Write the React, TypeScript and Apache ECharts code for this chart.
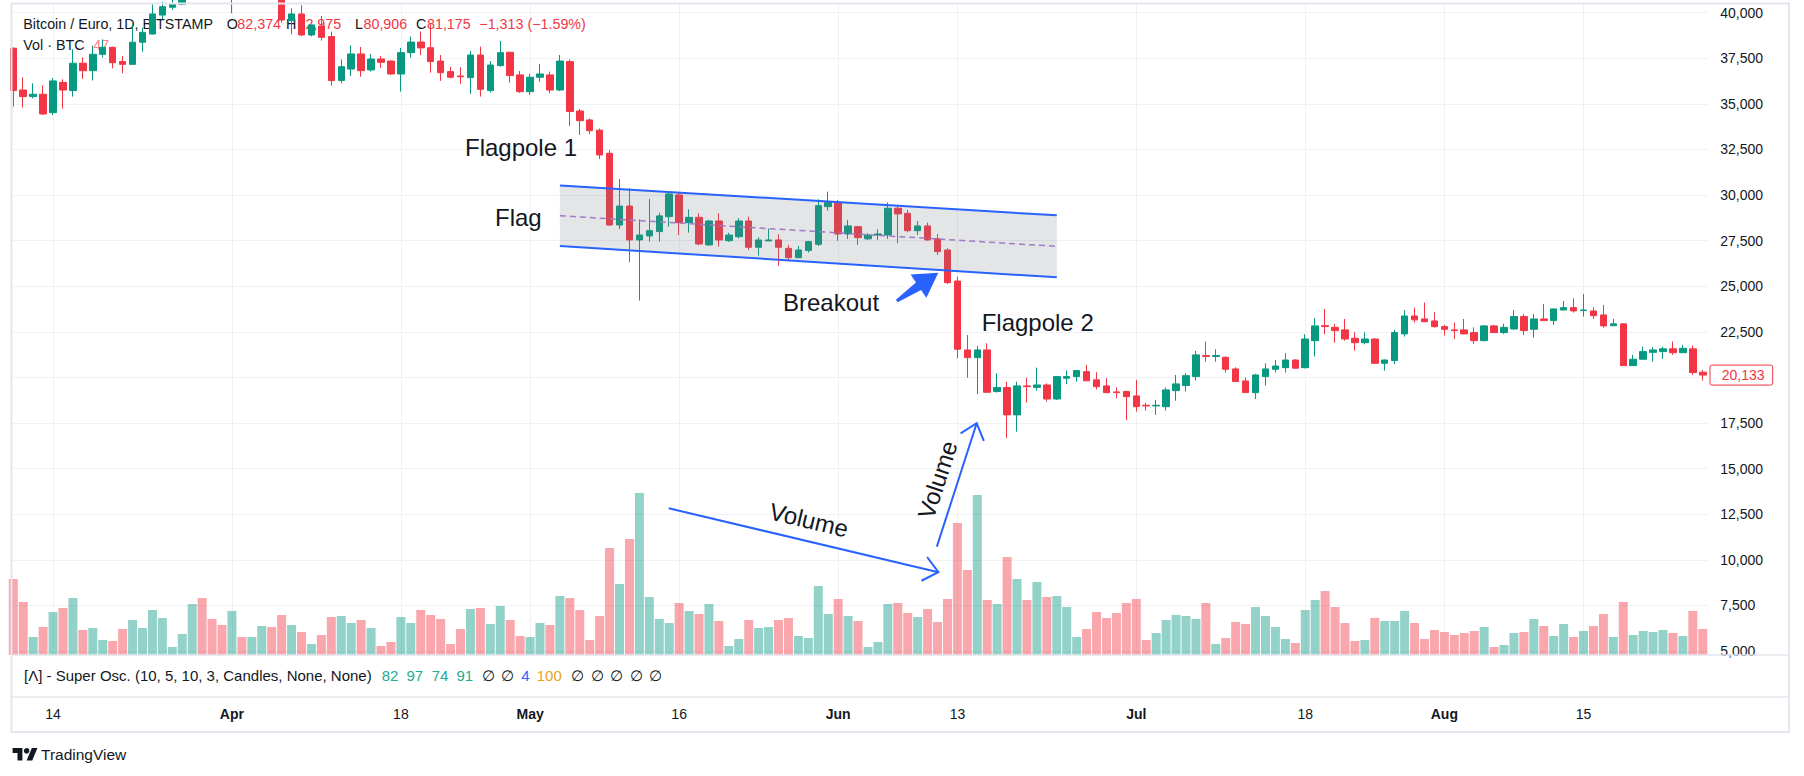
import React, { useEffect, useRef } from "react";
import * as echarts from "echarts";

// ---------- data (daily, first day = 2022-03-10, index 0) ----------
const FIRST_DAY = "2022-03-10";
const OPEN = [
  38050, 35760, 35400, 35530, 34520, 36180, 35730, 37230, 36820, 37720,
  38100, 37320, 37170, 38380, 38830, 39870, 40300, 40460, 42500, 42900,
  42800, 42600, 41300, 42000, 41600, 42200, 42400, 41700, 39560, 39930,
  38780, 39270, 38690, 36280, 36910, 37740, 36860, 37460, 37350, 36640,
  37810, 38390, 38080, 37350, 36770, 36530, 36440, 37680, 35730, 37100,
  37830, 36590, 35670, 36460, 36590, 35760, 37320, 34610, 34120, 33560,
  32290, 28360, 29400, 27540, 27760, 28000, 28820, 30010, 28490, 28780,
  27270, 28580, 27500, 27720, 28580, 27140, 27490, 27540, 27080, 26570,
  26960, 27300, 29370, 29590, 27870, 28270, 27600, 27810, 27810, 29280,
  29000, 28050, 28310, 27600, 26990, 25290, 21510, 21090, 21510, 19230,
  19450, 17950, 19540, 19460, 19590, 18820, 19960, 20050, 20320, 19870,
  19540, 19210, 19230, 18990, 18480, 18440, 18400, 19280, 19560, 20050,
  21200, 21150, 21110, 20470, 19810, 19170, 20050, 20450, 20540, 20960,
  20540, 22020, 22840, 22750, 22610, 22150, 21910, 22110, 20780, 20930,
  22390, 23370, 23210, 23100, 22790, 22610, 22610, 22460, 22020, 22830,
  22460, 22660, 23340, 22640, 23210, 23120, 23700, 23830, 23670, 23650,
  23430, 22840, 22940, 20650, 21000, 21380, 21420, 21570, 21360, 21570, 20290,
];
const HIGH = [
  38100, 36460, 36130, 36020, 36420, 36350, 37990, 37550, 38190, 38540,
  38140, 37630, 39360, 39180, 40460, 40600, 40700, 42550, 43600, 43300,
  43100, 43000, 42400, 42700, 42600, 42600, 43000, 41800, 40240, 40420,
  39330, 39820, 38960, 37440, 38210, 38120, 37740, 37630, 37380, 38070,
  38690, 38960, 39360, 37680, 37040, 37010, 37900, 38140, 37350, 38450,
  37860, 36800, 36640, 37190, 36770, 37680, 37440, 34720, 34200, 33650,
  32470, 30880, 30370, 28670, 29790, 29040, 30150, 30150, 29220, 29000,
  28640, 29000, 27940, 28730, 28820, 27690, 28160, 27850, 27270, 27210,
  27490, 29770, 30190, 29730, 28640, 28310, 27910, 28130, 29600, 29460,
  29180, 28580, 28490, 27870, 27080, 25530, 22330, 21730, 21880, 20230,
  19770, 19770, 19990, 20540, 19680, 20090, 20380, 20410, 20690, 20290,
  19960, 19460, 19280, 19870, 18620, 18770, 19450, 20140, 20230, 21460,
  21970, 21550, 21150, 20560, 19990, 20200, 20780, 20960, 21330, 20990,
  22370, 23250, 23760, 22940, 23210, 22480, 22480, 22150, 20990, 22610,
  23700, 23830, 24110, 23580, 22880, 23010, 23210, 22750, 22880, 22880,
  22940, 23700, 23470, 23480, 24030, 23770, 24200, 24340, 24580, 23850,
  23980, 23210, 22950, 21240, 21690, 21660, 21690, 21970, 21780, 21750, 20410,
];
const LOW = [
  34850, 34800, 35300, 34390, 34390, 34740, 35400, 36370, 36280, 37550,
  36950, 36680, 37130, 37860, 38810, 39640, 40150, 40400, 42300, 42400,
  42000, 41000, 39970, 41500, 41300, 41200, 41600, 39450, 38810, 38720,
  38700, 38470, 36000, 36130, 36530, 36490, 36770, 36970, 36590, 35670,
  37540, 37680, 36710, 36260, 36400, 36090, 35540, 35400, 35620, 37040,
  36170, 35600, 35490, 36220, 35580, 35700, 33790, 33300, 33350, 31980,
  28300, 28140, 26320, 24220, 27450, 27450, 28270, 27810, 27940, 27250,
  27210, 27180, 27430, 27630, 26990, 26680, 27480, 26130, 26390, 26530,
  26850, 27210, 29150, 27490, 27600, 27270, 27540, 27540, 27600, 27360,
  27960, 27810, 27500, 26720, 25130, 21050, 19990, 19100, 19170, 19170,
  16670, 17030, 18620, 19280, 18680, 18770, 19630, 19770, 19800, 19350,
  19140, 18860, 17670, 18130, 18190, 17950, 18190, 18730, 19230, 19830,
  20870, 20870, 20270, 19770, 19170, 18820, 19560, 20270, 20270, 20480,
  20500, 21150, 22370, 21910, 22020, 21470, 21820, 20740, 20380, 20730,
  22240, 23010, 23030, 22730, 22300, 22110, 22370, 21840, 21990, 22440,
  22390, 22620, 22330, 22190, 23100, 22880, 23690, 23560, 23340, 23210,
  22730, 22830, 20640, 20640, 20990, 20870, 21020, 21240, 21350, 20140, 19830,
];
const CLOSE = [
  35730, 35400, 35530, 34450, 36260, 35760, 37230, 36820, 37720, 38100,
  37260, 37170, 38380, 38920, 39930, 40330, 40460, 42500, 42900, 42800,
  42600, 41300, 42000, 41600, 42200, 42400, 41700, 39600, 39930, 38780,
  39330, 38650, 36280, 37040, 37740, 36820, 37460, 37280, 36640, 37810,
  38390, 38070, 37320, 36710, 36460, 36490, 37680, 35800, 37130, 37810,
  36550, 35670, 36460, 36640, 35760, 37350, 34580, 34080, 33530, 32200,
  28360, 29400, 27540, 27810, 28050, 28860, 30060, 28490, 28780, 27320,
  28580, 27540, 27810, 28580, 27140, 27540, 27540, 27140, 26570, 26990,
  27450, 29420, 29590, 27870, 28310, 27670, 27810, 27870, 29280, 28970,
  28050, 28310, 27540, 26900, 25200, 21550, 21090, 21510, 19190, 19450,
  17950, 19540, 19500, 19590, 18820, 20050, 20050, 20380, 19815, 19500,
  19170, 19170, 18950, 18400, 18440, 18480, 19320, 19650, 20100, 21240,
  21150, 21200, 20450, 19780, 19175, 20140, 20470, 20630, 20960, 20510,
  22110, 22830, 22790, 22570, 22110, 21910, 22110, 20780, 20960, 22460,
  23370, 23160, 23060, 22790, 22640, 22570, 22390, 22020, 22830, 22460,
  22750, 23340, 22570, 23210, 23120, 23760, 23830, 23650, 23700, 23390,
  22830, 22940, 20650, 21000, 21420, 21510, 21570, 21360, 21600, 20270, 20133,
];
const VOLUME = [
  1140, 795, 270, 420, 645, 705, 855, 375, 405, 225,
  210, 390, 525, 405, 675, 555, 120, 315, 765, 855,
  540, 450, 660, 270, 270, 435, 420, 600, 450, 345,
  165, 300, 570, 585, 480, 525, 405, 135, 195, 570,
  480, 675, 600, 540, 165, 390, 690, 705, 465, 735,
  525, 285, 270, 480, 450, 885, 855, 675, 225, 585,
  1605, 1065, 1740, 2430, 870, 540, 480, 780, 660, 615,
  765, 510, 135, 240, 525, 405, 420, 525, 555, 285,
  255, 1035, 615, 840, 585, 510, 120, 195, 765, 780,
  630, 570, 690, 495, 840, 1980, 1275, 2400, 825, 765,
  1470, 1140, 825, 1095, 870, 885, 720, 270, 390, 645,
  555, 630, 780, 840, 225, 330, 525, 600, 585, 540,
  780, 165, 255, 495, 465, 720, 585, 420, 240, 180,
  675, 825, 960, 720, 480, 210, 225, 555, 510, 510,
  660, 480, 240, 375, 345, 300, 330, 360, 420, 120,
  150, 330, 345, 540, 435, 285, 465, 270, 360, 435,
  615, 270, 795, 300, 360, 345, 375, 330, 285, 660, 390,
];

const PRICE_TICKS = [
  5000, 7500, 10000, 12500, 15000, 17500, 20000, 22500, 25000, 27500,
  30000, 32500, 35000, 37500, 40000,
];
const TIME_TICK_DAY = [4, 22, 39, 52, 67, 83, 95, 113, 130, 144, 158];
const TIME_TICK_LABEL = ["14", "Apr", "18", "May", "16", "Jun", "13", "Jul", "18", "Aug", "15"];
const TIME_TICK_IS_MONTH = [false, true, false, true, false, true, false, true, false, true, false];
const LAST_PRICE = 20133;

// drawings, in (day index, price)
const FLAG_TOP = [[55, 30530], [105, 28890]];
const FLAG_BOTTOM = [[55, 27210], [105, 25490]];
const BREAKOUT_ARROW = [[88.9, 24195], [93.08, 25747]];
const VOLUME_ARROW_1 = [[65.95, 12831], [93.09, 9323]];
const VOLUME_ARROW_2 = [[92.93, 10726], [96.94, 17491]];
const NOTES = [
  { text: "Flagpole 1", day: 45.45, price: 32583, align: "left", angle: 0 },
  { text: "Flag", day: 48.47, price: 28762, align: "left", angle: 0 },
  { text: "Breakout", day: 77.45, price: 24086, align: "left", angle: 0 },
  { text: "Flagpole 2", day: 97.44, price: 22989, align: "left", angle: 0 },
  { text: "Volume", day: 80.07, price: 12189, align: "center", angle: -13.4 },
  { text: "Volume", day: 93.0, price: 14394, align: "center", angle: 72 },
];

// ---------- styling ----------
const FONT = '"Liberation Sans", Arial, sans-serif';
const TEXT = "#131722";
const UP = "#089981";
const DOWN = "#F23645";
const BLUE = "#2962FF";
const GRID_LINE = "#eff1f5";
const FRAME = "#e3e6ec";

const GRID_LEFT = 12.7;
const GRID_RIGHT_X = 1708.3;
const GRID_TOP = 3.5;
const GRID_BOTTOM_Y = 655;
const DAY_PX = 9.938;
const FIRST_CENTER = 13.3;
const X_MIN = (GRID_LEFT - FIRST_CENTER) / DAY_PX;
const X_MAX = (GRID_RIGHT_X - FIRST_CENTER) / DAY_PX;
const Y_MIN = 4786;
const Y_MAX = 40504;
const VOL_MAX = 9772;

const fmt = (v: number) => Math.round(v).toLocaleString("en-US");

function buildOption(): any {
  const gridBox = {
    left: GRID_LEFT,
    top: GRID_TOP,
    width: GRID_RIGHT_X - GRID_LEFT,
    height: GRID_BOTTOM_Y - GRID_TOP,
  };
  const candles = OPEN.map((o, i) => [i, o, CLOSE[i], LOW[i], HIGH[i]]);
  const volumes = VOLUME.map((v, i) => ({
    value: [i, v],
    itemStyle: { color: CLOSE[i] >= OPEN[i] ? "rgba(8,153,129,0.44)" : "rgba(242,54,69,0.44)" },
  }));
  return {
    animation: false,
    backgroundColor: "#ffffff",
    grid: [gridBox, gridBox],
    xAxis: [
      {
        type: "value",
        gridIndex: 0,
        min: X_MIN,
        max: X_MAX,
        axisLine: { show: false },
        axisTick: { show: false, customValues: TIME_TICK_DAY },
        splitLine: { show: true, lineStyle: { color: GRID_LINE, width: 1 } },
        axisLabel: {
          customValues: TIME_TICK_DAY,
          margin: 52,
          formatter: (v: number) => {
            const k = TIME_TICK_DAY.indexOf(Math.round(v));
            if (k < 0) return "";
            return TIME_TICK_IS_MONTH[k] ? `{m|${TIME_TICK_LABEL[k]}}` : `{d|${TIME_TICK_LABEL[k]}}`;
          },
          rich: {
            m: { fontFamily: FONT, fontSize: 14, fontWeight: "bold", color: TEXT, lineHeight: 14 },
            d: { fontFamily: FONT, fontSize: 14, color: TEXT, lineHeight: 14 },
          },
        },
      },
      { type: "value", gridIndex: 1, min: X_MIN, max: X_MAX, show: false },
    ],
    yAxis: [
      {
        type: "value",
        gridIndex: 0,
        position: "right",
        min: Y_MIN,
        max: Y_MAX,
        axisLine: { show: false },
        axisTick: { show: false, customValues: PRICE_TICKS },
        splitLine: { show: true, lineStyle: { color: GRID_LINE, width: 1 } },
        axisLabel: {
          customValues: PRICE_TICKS,
          margin: 12,
          color: TEXT,
          fontFamily: FONT,
          fontSize: 14,
          formatter: (v: number) => fmt(v),
        },
      },
      { type: "value", gridIndex: 1, min: 0, max: VOL_MAX, show: false },
    ],
    series: [
      {
        type: "bar",
        name: "Volume",
        xAxisIndex: 1,
        yAxisIndex: 1,
        data: volumes,
        barWidth: 9,
        z: 1,
        silent: true,
      },
      {
        type: "candlestick",
        name: "BTCEUR",
        xAxisIndex: 0,
        yAxisIndex: 0,
        data: candles,
        encode: { x: 0, y: [1, 2, 3, 4] },
        barWidth: 7,
        z: 3,
        silent: true,
        itemStyle: {
          color: UP,
          color0: DOWN,
          borderColor: UP,
          borderColor0: DOWN,
          borderWidth: 1,
        },
      },
    ],
  };
}

function buildGraphic(chart: any): any[] {
  const px = (d: number, v: number) => chart.convertToPixel({ gridIndex: 0 }, [d, v]) as number[];
  const els: any[] = [];
  const text = (t: string, x: number, y: number, o: any = {}) => ({
    type: "text",
    x,
    y,
    rotation: o.rotation || 0,
    z: o.z != null ? o.z : 20,
    silent: true,
    style: {
      text: t,
      x: 0,
      y: 0,
      fill: o.color || TEXT,
      fontSize: o.size || 14,
      fontFamily: FONT,
      fontWeight: o.weight || "normal",
      align: o.align || "left",
      verticalAlign: "middle",
    },
  });
  const line = (a: number[], b: number[], o: any = {}) => ({
    type: "line",
    z: o.z != null ? o.z : 12,
    silent: true,
    shape: { x1: a[0], y1: a[1], x2: b[0], y2: b[1] },
    style: { stroke: o.color || BLUE, lineWidth: o.width || 2, lineDash: o.dash || null },
  });

  // frame and pane separators
  els.push({
    type: "rect",
    z: 30,
    silent: true,
    shape: { x: 11.5, y: 3.5, width: 1777.5, height: 728.5 },
    style: { fill: "none", stroke: FRAME, lineWidth: 2 },
  });
  els.push(line([11.5, GRID_BOTTOM_Y], [1789, GRID_BOTTOM_Y], { color: FRAME, width: 1.5, z: 30 }));
  els.push(line([11.5, 697], [1789, 697], { color: FRAME, width: 1.5, z: 30 }));

  // legend header (drawn under the candles, as in the picture)
  const hy = 24;
  const header = [
    ["Bitcoin / Euro, 1D, BITSTAMP", 23.3, TEXT],
    ["O", 226.7, TEXT],
    ["82,374", 237.3, DOWN],
    ["H", 286, TEXT],
    ["82,975", 297.5, DOWN],
    ["L", 355, TEXT],
    ["80,906", 363.5, DOWN],
    ["C", 416, TEXT],
    ["81,175", 427, DOWN],
    ["\u22121,313 (\u22121.59%)", 479.3, DOWN],
  ];
  header.forEach(([t, x, c]) => els.push(text(t as string, x as number, hy, { color: c, z: 0, size: 14.3 })));
  els.push(text("Vol \u00b7 BTC", 23.3, 44.7, { z: 0, size: 14.3 }));
  els.push(text("47", 93.3, 44.7, { color: "rgba(242,54,69,0.65)", z: 0, size: 14.3 }));

  // oscillator pane legend
  const oy = 675.7;
  const osc = [
    ["[\u039b] - Super Osc. (10, 5, 10, 3, Candles, None, None)", 24, TEXT],
    ["82", 381.7, "#22ab94"],
    ["97", 406.4, "#22ab94"],
    ["74", 431.7, "#22ab94"],
    ["91", 456.4, "#22ab94"],
    ["\u2205", 482.2, TEXT],
    ["\u2205", 501.1, TEXT],
    ["4", 521.2, BLUE],
    ["100", 536.7, "#e9a31c"],
    ["\u2205", 571.2, TEXT],
    ["\u2205", 591.3, TEXT],
    ["\u2205", 610.2, TEXT],
    ["\u2205", 629.7, TEXT],
    ["\u2205", 648.7, TEXT],
  ];
  osc.forEach(([t, x, c]) => els.push(text(t as string, x as number, oy, { color: c, size: 15 })));

  // TradingView logo
  const s = 0.7, ox = 12.6, oy2 = 745.2;
  const P = (pts: number[][]) => pts.map(([a, b]) => [ox + a * s, oy2 + b * s]);
  els.push({ type: "polygon", z: 20, silent: true, shape: { points: P([[14, 22], [7, 22], [7, 11], [0, 11], [0, 4], [14, 4]]) }, style: { fill: TEXT } });
  els.push({ type: "polygon", z: 20, silent: true, shape: { points: P([[28, 22], [20, 22], [27.5, 4], [35.5, 4]]) }, style: { fill: TEXT } });
  els.push({ type: "circle", z: 20, silent: true, shape: { cx: ox + 20 * s, cy: oy2 + 8 * s, r: 4 * s }, style: { fill: TEXT } });
  els.push(text("TradingView", 41, 754.3, { size: 15.5 }));

  // flag channel
  const tl = px(FLAG_TOP[0][0], FLAG_TOP[0][1]);
  const tr = px(FLAG_TOP[1][0], FLAG_TOP[1][1]);
  const bl = px(FLAG_BOTTOM[0][0], FLAG_BOTTOM[0][1]);
  const br = px(FLAG_BOTTOM[1][0], FLAG_BOTTOM[1][1]);
  els.push({
    type: "polygon",
    z: 10,
    silent: true,
    shape: { points: [tl, tr, br, bl] },
    style: { fill: "rgba(120,123,134,0.2)" },
  });
  els.push(line(tl, tr, { width: 2 }));
  els.push(line(bl, br, { width: 2 }));
  const ml = [(tl[0] + bl[0]) / 2, (tl[1] + bl[1]) / 2];
  const mr = [(tr[0] + br[0]) / 2, (tr[1] + br[1]) / 2];
  els.push(line(ml, mr, { color: "#a07cc5", width: 1.5, dash: [6, 4] }));

  // thin arrows with open heads
  const arrow = (from: number[], to: number[]) => {
    const a = px(from[0], from[1]);
    const b = px(to[0], to[1]);
    const back = Math.atan2(a[1] - b[1], a[0] - b[0]);
    const L = 19, sp = (40 * Math.PI) / 180;
    const w1 = [b[0] + L * Math.cos(back + sp), b[1] + L * Math.sin(back + sp)];
    const w2 = [b[0] + L * Math.cos(back - sp), b[1] + L * Math.sin(back - sp)];
    els.push(line(a, b, { width: 2 }));
    els.push({
      type: "polyline",
      z: 12,
      silent: true,
      shape: { points: [w1, b, w2] },
      style: { stroke: BLUE, lineWidth: 2, fill: "none" },
    });
  };
  arrow(VOLUME_ARROW_1[0], VOLUME_ARROW_1[1]);
  arrow(VOLUME_ARROW_2[0], VOLUME_ARROW_2[1]);

  // thick breakout arrow
  {
    const t = px(BREAKOUT_ARROW[0][0], BREAKOUT_ARROW[0][1]);
    const h = px(BREAKOUT_ARROW[1][0], BREAKOUT_ARROW[1][1]);
    const dx = h[0] - t[0], dy = h[1] - t[1];
    const len = Math.hypot(dx, dy);
    const u = [dx / len, dy / len];
    const n = [-u[1], u[0]];
    const base = [h[0] - u[0] * 24, h[1] - u[1] * 24];
    const off = (p: number[], k: number) => [p[0] + n[0] * k, p[1] + n[1] * k];
    els.push({
      type: "polygon",
      z: 12,
      silent: true,
      shape: {
        points: [off(t, -1.5), off(t, 1.5), off(base, 4.5), off(base, 14), h, off(base, -14), off(base, -4.5)],
      },
      style: { fill: BLUE },
    });
  }

  // text notes
  NOTES.forEach((n) => {
    const p = px(n.day, n.price);
    els.push(text(n.text, p[0], p[1], { size: 24, align: n.align, rotation: (n.angle * Math.PI) / 180, z: 14 }));
  });

  // last price label
  const lp = px(OPEN.length - 1, LAST_PRICE);
  els.push({
    type: "rect",
    z: 20,
    silent: true,
    shape: { x: 1710, y: lp[1] - 10, width: 62.7, height: 20, r: 2 },
    style: { fill: "#ffffff", stroke: DOWN, lineWidth: 1 },
  });
  els.push(text(fmt(LAST_PRICE), 1721.7, lp[1], { color: DOWN, size: 14, z: 21 }));

  return els;
}

export default function App() {
  const ref = useRef<HTMLDivElement>(null);
  useEffect(() => {
    const el = ref.current;
    if (!el) return;
    const chart = echarts.init(el, null, { renderer: "svg" });
    chart.setOption(buildOption());
    chart.setOption({ graphic: { elements: buildGraphic(chart) } });
    return () => chart.dispose();
  }, []);
  return (
    <div
      ref={ref}
      data-first-day={FIRST_DAY}
      style={{ position: "absolute", left: 0, top: 0, width: 1804, height: 776, background: "#ffffff" }}
    />
  );
}
